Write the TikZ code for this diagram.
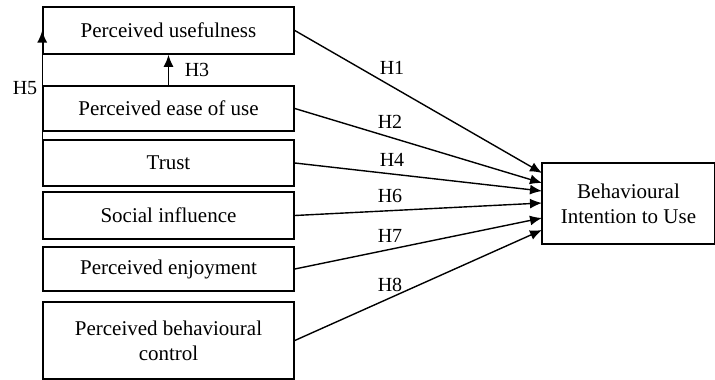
\documentclass[tikz,border=0pt]{standalone}
\usepackage{fontspec}
\setmainfont{Liberation Serif}
\usetikzlibrary{arrows.meta}

\tikzset{
  construct/.style={draw, line width=1.6pt, minimum width=251pt, inner sep=0pt, align=center, font=\fontsize{21}{25}\selectfont},
  hyp/.style={line width=1.4pt, -{Latex[length=12pt,width=10pt]}},
  hlabel/.style={inner sep=0pt, font=\fontsize{20}{24}\selectfont}
}

\begin{document}
\begin{tikzpicture}[x=1pt, y=-1pt]
\useasboundingbox (0,0) rectangle (715,380);

% constructs on the left
\node[construct, minimum height=47pt] (pu) at (168.5,30.5) {Perceived usefulness};
\node[construct, minimum height=45pt] (peou) at (168.5,108.5) {Perceived ease of use};
\node[construct, minimum height=46pt] (trust) at (168.5,163) {Trust};
\node[construct, minimum height=47pt] (social) at (168.5,215.5) {Social influence};
\node[construct, minimum height=44pt] (enjoy) at (168.5,269) {Perceived enjoyment};
\node[construct, minimum height=77pt] (control) at (168.5,340.5) {Perceived behavioural\\control};

% dependent construct
\node[construct, minimum width=173pt, minimum height=81pt] (biu) at (628.5,203.5) {Behavioural\\Intention to Use};

\coordinate (in1) at (542,173);
\coordinate (in2) at (542,183);
\coordinate (in4) at (542,191);
\coordinate (in6) at (542,203);
\coordinate (in7) at (542,218);
\coordinate (in8) at (542,230);

\draw[hyp] (pu.east) -- (in1);
\draw[hyp] (peou.east) -- (in2);
\draw[hyp] (trust.east) -- (in4);
\draw[hyp] (social.east) -- (in6);
\draw[hyp] (enjoy.east) -- (in7);
\draw[hyp] (control.east) -- (in8);

\node[hlabel] (h1) at (392,68) {H1};
\node[hlabel] (h2) at (390,122) {H2};
\node[hlabel] (h4) at (392,160) {H4};
\node[hlabel] (h6) at (390,196) {H6};
\node[hlabel] (h7) at (390,236) {H7};
\node[hlabel] (h8) at (390,285) {H8};

% paths among the left constructs
\draw[hyp] (peou.north) -- (pu.south);
\node[hlabel] (h3) at (197,70) {H3};
\draw[hyp] (trust.west) -- (pu.west);
\node[hlabel] (h5) at (25,88) {H5};
\end{tikzpicture}
\end{document}
